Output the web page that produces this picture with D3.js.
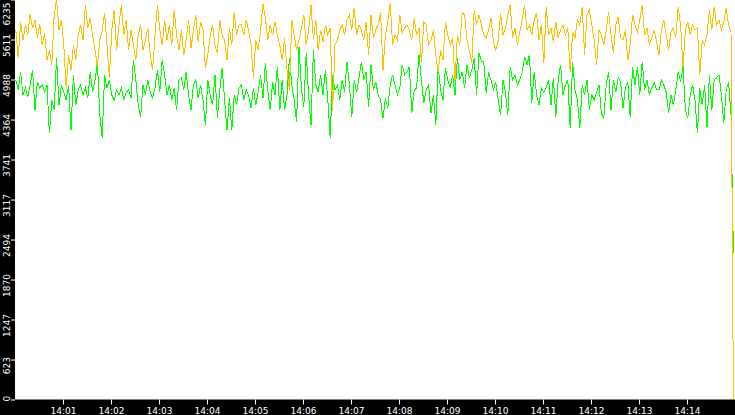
<!DOCTYPE html>
<html lang="en">
<head>
<meta charset="utf-8">
<title>Two series, 14:00 - 14:15</title>
<script src="https://d3js.org/d3.v7.min.js"></script>
<style>
  body { margin: 0; background: #000; }
  svg { display: block; }
</style>
</head>
<body>
<script>
// samples start at 14:00:01, one every 3 seconds
const sampleStart = new Date(2024, 0, 1, 14, 0, 1);
const sampleStepSeconds = 3;

const orangeValues = [
  5760, 5319, 5886, 5602, 5838, 5681, 6012, 5791,
  5917, 5634, 5854, 5523, 5712, 5287, 5445, 5208,
  5996, 6235, 5764, 5917, 5523, 4846, 5366, 5130,
  5523, 5287, 5681, 5838, 5602, 6153, 5791, 5949,
  5681, 5445, 5177, 5602, 5757, 6027, 5523, 5019,
  5760, 6075, 5445, 5838, 6153, 5681, 5917, 5449,
  5763, 5523, 5287, 5681, 5838, 5445, 5602, 5791,
  5366, 5130, 5681, 6153, 5760, 5523, 5917, 5602,
  5838, 5523, 6075, 5681, 5445, 5760, 5366, 5602, 5917, 5476, 5760, 5996, 5571,
  5886, 5760, 5161, 5366, 5681, 5838, 5523, 5397, 5917, 5681, 5602, 5287, 5791, 5523, 6043, 5681, 5838,
  5838, 5681, 5917, 5760,
  5523, 5019, 5602,
  5445, 5760,
  6171, 5949,
  5602, 5838, 5681,
  5886, 5681,
  5523, 5287, 5634,
  5130, 4815,
  5917, 5681, 5445,
  5602, 5791,
  5996, 5523, 5760,
  6153, 5602, 5917, 5445,
  5760, 5571, 5838,
  5681, 5791,
  4500, 5523,
  5602, 5760,
  5838, 5681, 5917,
  5996, 5760,
  6106, 5681, 5838,
  5760, 5602, 5886,
  5366, 5996, 5634,
  5760, 5838,
  6043, 5130,
  5681, 5886,
  6178, 5523,
  5681, 5602,
  5996, 5712,
  5791, 5838, 5760,
  5602, 5949,
  5681, 5791,
  5240, 5886,
  5838, 5523,
  5602, 5760,
  5366, 5098,
  5445, 5287,
  5886,
  5681, 5523, 5634,
  4972,
  5681, 5523, 6027,
  5996, 5602,
  5445, 5240,
  6075, 5838, 5996,
  5838, 5681,
  5634, 5760,
  5949, 5571,
  5445, 5602,
  6027,
  5681, 5791,
  5996,
  6153,
  5634, 5791,
  5523, 5728,
  5917, 6153,
  5760, 5838,
  5681, 5917,
  6027,
  5602, 5838,
  5240, 6122,
  5681, 5791, 5571, 5886, 5634,
  5760, 5838,
  5681, 5791,
  5098,
  5728, 5634,
  5917, 5838, 6122,
  5366,
  5996, 6075, 5838,
  5602, 5208,
  5760, 5681,
  5523, 5760,
  6043, 5681,
  5397, 5838,
  5964, 5634,
  5602, 5760,
  5287, 5523,
  5996, 5838,
  5728, 5917,
  6153,
  5681, 5791,
  5523, 5634,
  5760, 5571,
  5366, 5760,
  5917, 5681,
  5445, 5728,
  5791, 5634,
  6122, 5838,
  5177, 5760,
  5886, 5681, 5838,
  5760, 5791,
  5051, 5602,
  5523, 5681,
  6075, 5760,
  6122, 5838,
  5917, 5760, 5886,
  6106, 5838, 5728,
  0
];

const greenValues = [
  4982, 4825, 5108, 4746, 4856, 4714, 4903, 5140, 4510,
  4951, 4856, 4903, 4793, 4903, 4147, 4667, 4510, 5329,
  4588, 4903, 4793, 4667, 4903, 4195, 5061, 4588, 4825,
  4903, 4746, 4856, 4699, 5108, 4793, 4982, 5250, 4431,
  4084, 5061, 4856, 4982, 4746, 4667, 4825, 4746, 4856,
  4667, 4793, 4825, 4699, 5297, 4982, 4588, 4399, 4903,
  4746, 4982, 4793, 4699, 4856, 5140, 4793, 5297, 5061,
  4746, 4903, 4667, 4856, 4510, 4982, 5014, 4825, 5108,
  4746, 4510, 4903, 4982, 4699,
  4903, 4667, 4273, 4982, 4746, 4588, 5061, 4384, 4825, 5171, 4667, 4195, 4699, 4195, 4746, 4588, 4856,
  4903, 4667, 4825,
  4746, 4541, 4856,
  4588, 4793,
  5061, 4699,
  5250, 4825,
  4510, 4951, 4746,
  5187, 4510,
  4982, 4510,
  4746, 5329, 4903,
  4667, 4321,
  5502,
  4856, 4557,
  5407, 4746,
  4273,
  5455, 4903,
  4793, 5061,
  4746, 5140,
  4667, 4084,
  5061, 4825,
  4903, 4667, 4982, 4793,
  5266, 4903,
  4399, 4982,
  4793, 5014,
  5266, 4982,
  5108, 4557,
  5218,
  4825, 4951,
  4746, 4667,
  4384, 4699,
  4541, 4903,
  5061, 4903,
  4746, 4856,
  5218, 5061,
  5108, 5187,
  4462,
  4825, 4856,
  5376, 4982,
  4620, 4825,
  4903, 4462, 4746,
  4273, 5187,
  4825, 4667,
  5171,
  4982, 4856,
  5061, 4746,
  5329, 4982,
  5108, 4856,
  5218, 5014, 5140,
  5329, 4746,
  5407, 5266,
  5266, 4777,
  5108, 4982,
  4825, 4951,
  4667, 4431,
  4982, 4793,
  4431,
  5187, 4982,
  5061, 4903,
  4982, 5092,
  5344,
  5218, 5376,
  4620, 5108,
  4746, 4588,
  4856, 4793, 4856,
  4982, 4588,
  5014,
  4399, 4982,
  5218,
  4746, 4903,
  4982, 4226,
  5266, 4825,
  4667, 4226,
  4903, 4746,
  4982, 4510,
  4746, 4667,
  4793,
  4903, 4462,
  4384, 4903,
  5108, 4510,
  4982, 4793,
  5014, 4951,
  4541, 4856,
  4951, 4399,
  5187, 4903,
  5187, 4746,
  5266, 4825,
  4982, 4746,
  4856, 4935, 4825,
  4825, 4982,
  4903, 4793,
  4462, 4746,
  4588, 4825,
  5108, 4951,
  5187, 4510,
  4384, 4746,
  4903, 4667,
  4147, 4856,
  4588, 4903,
  4242, 5061,
  4510, 4982, 5014,
  5061, 4746,
  4305, 4825,
  4951, 4431,
  2284
];

const yMax = 6235;
const yTickValues = [0, 623, 1247, 1870, 2494, 3117, 3741, 4364, 4988, 5611, 6235];
const xTickLabels = ["14:01", "14:02", "14:03", "14:04", "14:05", "14:06", "14:07",
  "14:08", "14:09", "14:10", "14:11", "14:12", "14:13", "14:14"];

const width = 735;
const height = 415;
const plotLeft = 15;
const plotBottom = 399.5;

const parseClock = d3.timeParse("%Y-%m-%d %H:%M");
const xStart = parseClock("2024-01-01 14:00");
const xEnd = parseClock("2024-01-01 14:15");
const xTicks = xTickLabels.map(s => parseClock("2024-01-01 " + s));

const sampleTime = i => d3.timeSecond.offset(sampleStart, i * sampleStepSeconds);

const xScale = d3.scaleTime()
  .domain([xStart, xEnd])
  .range([plotLeft, width]);

const yScale = d3.scaleLinear()
  .domain([0, yMax])
  .range([plotBottom, -0.5]);

const svg = d3.select("body")
  .append("svg")
  .attr("width", width)
  .attr("height", height);

// black frame, white plot area
svg.append("rect")
  .attr("width", width).attr("height", height)
  .attr("fill", "#000");
svg.append("rect")
  .attr("x", plotLeft).attr("y", 0)
  .attr("width", width - plotLeft).attr("height", plotBottom)
  .attr("fill", "#fff");

const line = d3.line()
  .x((d, i) => xScale(sampleTime(i)))
  .y(d => yScale(d));

svg.append("path")
  .datum(greenValues)
  .attr("d", line)
  .attr("fill", "none")
  .attr("stroke", "#00ff00")
  .attr("stroke-width", 1)
  .attr("shape-rendering", "crispEdges");

svg.append("path")
  .datum(orangeValues)
  .attr("d", line)
  .attr("fill", "none")
  .attr("stroke", "#ffc000")
  .attr("stroke-width", 1)
  .attr("shape-rendering", "crispEdges");

// axes
const xAxis = d3.axisBottom(xScale)
  .tickValues(xTicks)
  .tickSize(5)
  .tickPadding(3)
  .tickFormat(d3.timeFormat("%H:%M"));

const yAxis = d3.axisLeft(yScale)
  .tickValues(yTickValues)
  .tickSize(4)
  .tickFormat(d => String(d));

const gx = svg.append("g")
  .attr("transform", "translate(0," + plotBottom + ")")
  .call(xAxis);

const gy = svg.append("g")
  .attr("transform", "translate(" + plotLeft + ",0)")
  .call(yAxis);

[gx, gy].forEach(g => {
  g.select(".domain").remove();
  g.selectAll(".tick line").attr("stroke", "#fff");
  g.selectAll(".tick text")
    .attr("fill", "#fff")
    .attr("font-family", "'DejaVu Sans', Verdana, sans-serif")
    .attr("font-size", 9);
});

// y labels are turned on their side and kept inside the window
gy.selectAll(".tick text")
  .attr("text-anchor", "middle")
  .attr("dy", null)
  .attr("y", -5.5)
  .attr("transform", "rotate(-90)")
  .each(function (d) {
    const half = this.getComputedTextLength() / 2;
    const ty = yScale(d);
    let centre = ty + 5.5;
    centre = Math.max(centre, 2 + half);
    centre = Math.min(centre, 401 - half);
    d3.select(this).attr("x", -(centre - ty));
  });
</script>
</body>
</html>
